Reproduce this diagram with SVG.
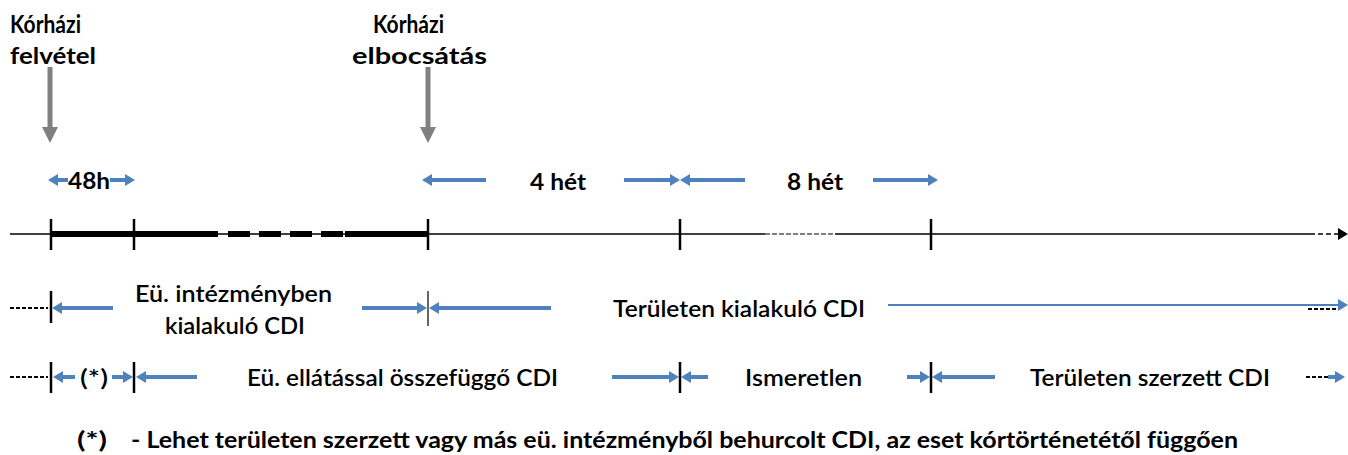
<svg xmlns="http://www.w3.org/2000/svg" width="1348" height="455" viewBox="0 0 1348 455">
<style>
text{font-family:Lato,"Noto Sans","Liberation Sans",sans-serif;font-size:22.5px;font-weight:bold;fill:#000}
.reg{font-weight:600}
.big{font-size:25px}
.blue{stroke:#4F81BD;stroke-width:4;fill:none}
.tick{stroke:#000;stroke-width:2.5}
.thin{stroke:#000;stroke-width:1.5;fill:none}
.dot{stroke:#000;stroke-width:2;stroke-dasharray:4 2;fill:none}
</style>
<defs>
<marker id="bh" viewBox="0 0 10 12" refX="0" refY="6" markerWidth="10" markerHeight="12" markerUnits="userSpaceOnUse" orient="auto"><path d="M0,0 L10,6 L0,12 Z" fill="#4F81BD"/></marker>
<marker id="gh" viewBox="0 0 16 16" refX="0" refY="8" markerWidth="16" markerHeight="16" markerUnits="userSpaceOnUse" orient="auto"><path d="M0,0 L16,8 L0,16 Z" fill="#808080"/></marker>
<marker id="kh" viewBox="0 0 10 12" refX="0" refY="6" markerWidth="10" markerHeight="12" markerUnits="userSpaceOnUse" orient="auto"><path d="M0,0 L10,6 L0,12 Z" fill="#000"/></marker>
</defs>

<g id="label-felvetel">
<text x="10" y="33" class="big" textLength="71" lengthAdjust="spacingAndGlyphs">Kórházi</text>
<text x="10" y="64" textLength="86" lengthAdjust="spacingAndGlyphs">felvétel</text>
</g>
<g id="label-elbocsatas">
<text x="373" y="33" class="big" textLength="71" lengthAdjust="spacingAndGlyphs">Kórházi</text>
<text x="352" y="64" textLength="135" lengthAdjust="spacingAndGlyphs">elbocsátás</text>
</g>
<g id="label-48h"><text x="68" y="189" textLength="42" lengthAdjust="spacingAndGlyphs">48h</text></g>
<g id="label-4het"><text x="530" y="190" textLength="56" lengthAdjust="spacingAndGlyphs">4 hét</text></g>
<g id="label-8het"><text x="787" y="190" textLength="56" lengthAdjust="spacingAndGlyphs">8 hét</text></g>
<g id="label-eu-int">
<text x="135" y="302" class="reg" textLength="197" lengthAdjust="spacingAndGlyphs">Eü. intézményben</text>
<text x="165" y="334" class="reg" textLength="140" lengthAdjust="spacingAndGlyphs">kialakuló CDI</text>
</g>
<g id="label-ter-kial"><text x="613" y="317" class="reg" textLength="252" lengthAdjust="spacingAndGlyphs">Területen kialakuló CDI</text></g>
<g id="label-star"><text x="80" y="386" class="reg" textLength="28" lengthAdjust="spacingAndGlyphs">(*)</text></g>
<g id="label-eu-ell"><text x="247" y="386" class="reg" textLength="311" lengthAdjust="spacingAndGlyphs">Eü. ellátással összefüggő CDI</text></g>
<g id="label-ismeretlen"><text x="745" y="386" class="reg" textLength="117" lengthAdjust="spacingAndGlyphs">Ismeretlen</text></g>
<g id="label-ter-szerz"><text x="1030" y="386" class="reg" textLength="240" lengthAdjust="spacingAndGlyphs">Területen szerzett CDI</text></g>
<g id="footnote">
<text x="77" y="448" textLength="30" lengthAdjust="spacingAndGlyphs">(*)</text>
<text x="131" y="448" textLength="1107" lengthAdjust="spacingAndGlyphs">- Lehet területen szerzett vagy más eü. intézményből behurcolt CDI, az eset kórtörténetétől függően</text>
</g>

<g id="timeline">
<line class="thin" x1="10" y1="234" x2="765" y2="234"/>
<line x1="765" y1="234" x2="835" y2="234" stroke="#555" stroke-width="1.5" stroke-dasharray="5 2"/>
<line class="thin" x1="835" y1="234" x2="1310" y2="234"/>
<line x1="1310" y1="234" x2="1338" y2="234" stroke="#000" stroke-width="1.5" stroke-dasharray="5 3" marker-end="url(#kh)"/>
<line x1="51" y1="234" x2="218" y2="234" stroke="#000" stroke-width="6"/>
<line x1="228" y1="234" x2="343" y2="234" stroke="#000" stroke-width="6" stroke-dasharray="22 9"/>
<line x1="345" y1="234" x2="428" y2="234" stroke="#000" stroke-width="6"/>
<line class="tick" x1="51" y1="219" x2="51" y2="250"/>
<line class="tick" x1="134" y1="219" x2="134" y2="250"/>
<line class="tick" x1="428" y1="219" x2="428" y2="250"/>
<line class="tick" x1="680" y1="219" x2="680" y2="250"/>
<line class="tick" x1="931" y1="219" x2="931" y2="250"/>
<line class="dot" x1="10" y1="308" x2="48" y2="308"/>
<line class="tick" x1="51" y1="291" x2="51" y2="323"/>
<line x1="428" y1="291" x2="428" y2="326" stroke="#000" stroke-width="1.2"/>
<line class="dot" x1="10" y1="377" x2="48" y2="377"/>
<line class="tick" x1="51" y1="362" x2="51" y2="393"/>
<line class="tick" x1="134" y1="362" x2="134" y2="393"/>
<line class="tick" x1="680" y1="362" x2="680" y2="393"/>
<line class="tick" x1="931" y1="362" x2="931" y2="393"/>
</g>

<g id="connectors">
<line x1="50" y1="67" x2="50" y2="127" stroke="#808080" stroke-width="5" marker-end="url(#gh)"/>
<line x1="428" y1="67" x2="428" y2="127" stroke="#808080" stroke-width="5" marker-end="url(#gh)"/>
<line class="blue" x1="68" y1="180" x2="58" y2="180" marker-end="url(#bh)"/>
<line class="blue" x1="110" y1="180" x2="125" y2="180" marker-end="url(#bh)"/>
<line class="blue" x1="486" y1="180" x2="432" y2="180" marker-end="url(#bh)"/>
<line class="blue" x1="624" y1="180" x2="670" y2="180" marker-end="url(#bh)"/>
<line class="blue" x1="745" y1="180" x2="690" y2="180" marker-end="url(#bh)"/>
<line class="blue" x1="873" y1="180" x2="928" y2="180" marker-end="url(#bh)"/>
<line class="blue" x1="113" y1="308" x2="62" y2="308" marker-end="url(#bh)"/>
<line class="blue" x1="362" y1="308" x2="417" y2="308" marker-end="url(#bh)"/>
<line class="blue" x1="551" y1="308" x2="439" y2="308" marker-end="url(#bh)"/>
<line x1="888" y1="305" x2="1338" y2="305" stroke="#4F81BD" stroke-width="2" marker-end="url(#bh)"/>
<line class="dot" x1="1308" y1="309" x2="1336" y2="309"/>
<line class="blue" x1="75" y1="377" x2="63" y2="377" marker-end="url(#bh)"/>
<line class="blue" x1="112" y1="377" x2="123" y2="377" marker-end="url(#bh)"/>
<line class="blue" x1="197" y1="377" x2="146" y2="377" marker-end="url(#bh)"/>
<line class="blue" x1="612" y1="377" x2="669" y2="377" marker-end="url(#bh)"/>
<line class="blue" x1="708" y1="377" x2="691" y2="377" marker-end="url(#bh)"/>
<line class="blue" x1="907" y1="377" x2="920" y2="377" marker-end="url(#bh)"/>
<line class="blue" x1="995" y1="377" x2="942" y2="377" marker-end="url(#bh)"/>
<line class="dot" x1="1306" y1="377" x2="1330" y2="377"/>
<line class="blue" x1="1328" y1="377" x2="1335" y2="377" marker-end="url(#bh)"/>
</g>
</svg>
